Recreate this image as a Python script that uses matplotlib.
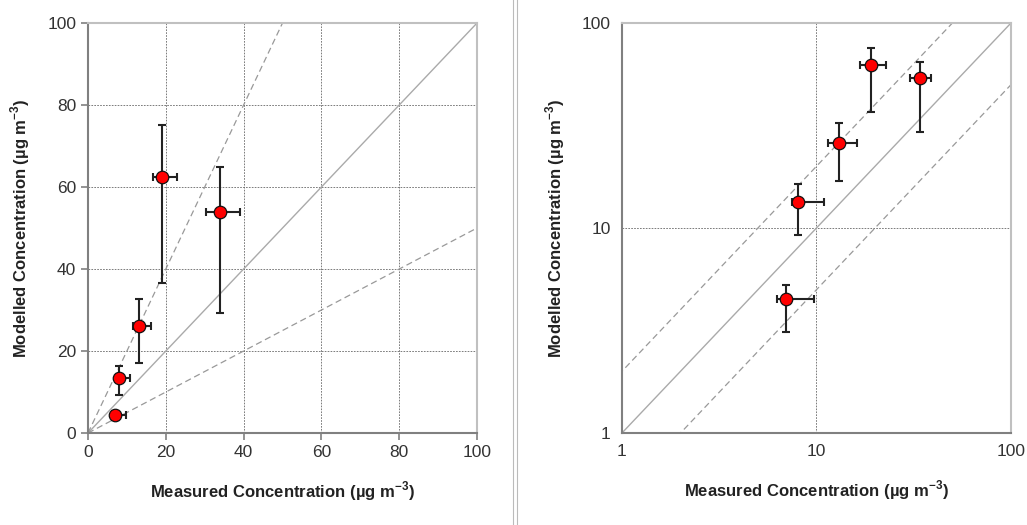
import matplotlib.pyplot as plt
from matplotlib.lines import Line2D
import numpy as np

plt.rcParams['font.family'] = ['Liberation Sans', 'DejaVu Sans']
plt.rcParams['mathtext.fontset'] = 'custom'
plt.rcParams['mathtext.rm'] = 'Liberation Sans:bold'
plt.rcParams['mathtext.bf'] = 'Liberation Sans:bold'

# measured vs modelled concentrations (ug m-3)
measured = [7.0, 8.0, 13.0, 19.0, 34.0]
modelled = [4.5, 13.4, 26.0, 62.5, 54.0]
meas_lo = [6.3, 7.5, 11.5, 16.7, 30.2]
meas_hi = [9.7, 10.9, 16.2, 22.8, 39.0]
mod_lo = [3.1, 9.2, 17.0, 36.7, 29.3]
mod_hi = [5.3, 16.4, 32.7, 75.2, 64.8]

x_ticks_lin = [0, 20, 40, 60, 80, 100]
ticks_log = [1, 10, 100]

xlabel = 'Measured Concentration (\u00b5g m$^{\\mathrm{-3}}$)'
ylabel = 'Modelled Concentration (\u00b5g m$^{\\mathrm{-3}}$)'

fig = plt.figure(figsize=(10.27, 5.25), dpi=100)
ax1 = fig.add_axes([0.0857, 0.1752, 0.3788, 0.781])
ax2 = fig.add_axes([0.6056, 0.1752, 0.3788, 0.781])

x = np.array(measured)
y = np.array(modelled)
xerr = [x - np.array(meas_lo), np.array(meas_hi) - x]
yerr = [y - np.array(mod_lo), np.array(mod_hi) - y]

for ax, lo, hi in [(ax1, 0, 100), (ax2, 1, 100)]:
    # 1:1, 2:1 and 1:2 reference lines
    ref = np.array([lo, hi])
    ax.plot(ref, ref, color='#aaaaaa', lw=1.0, zorder=1)
    ax.plot(ref / 2, ref, color='#999999', lw=0.9, ls=(0, (5, 3)), zorder=1)
    ax.plot(ref, ref / 2, color='#999999', lw=0.9, ls=(0, (5, 3)), zorder=1)

    ax.errorbar(x, y, xerr=xerr, yerr=yerr, fmt='none', ecolor='#222222',
                elinewidth=1.5, capsize=3, capthick=1.5, zorder=3)
    ax.plot(x, y, 'o', ms=9, mfc='#ff0000', mec='#111111', mew=0.9, zorder=4)

    ax.set_xlim(lo, hi)
    ax.set_ylim(lo, hi)
    for s in ['top', 'right']:
        ax.spines[s].set_color('#c0c0c0')
        ax.spines[s].set_linewidth(1.5)
    for s in ['left', 'bottom']:
        ax.spines[s].set_color('#808080')
        ax.spines[s].set_linewidth(1.5)
    ax.tick_params(colors='#808080', labelcolor='#333333', labelsize=12.5,
                   length=5, width=1.2, direction='out')
    ax.set_xlabel(xlabel, fontsize=12, fontweight='bold', color='#222222', labelpad=14)
    ax.set_ylabel(ylabel, fontsize=12, fontweight='bold', color='#222222', labelpad=11)
    ax.grid(True, color='#666666', lw=0.6, ls=(0, (2, 1.5)), zorder=0)
    ax.set_axisbelow(True)

ax1.set_xticks(x_ticks_lin)
ax1.set_yticks(x_ticks_lin)

ax2.set_xscale('log')
ax2.set_yscale('log')
ax2.set_xticks(ticks_log)
ax2.set_yticks(ticks_log)
ax2.set_xticklabels([str(t) for t in ticks_log])
ax2.set_yticklabels([str(t) for t in ticks_log])
ax2.minorticks_off()
ax2.tick_params(length=0, pad=8)

# separator between panels
for xp in [513 / 1027, 517 / 1027]:
    fig.add_artist(Line2D([xp, xp], [0, 1], color='#bbbbbb', lw=0.8))

fig.savefig('out.png', dpi=100, facecolor='white')
